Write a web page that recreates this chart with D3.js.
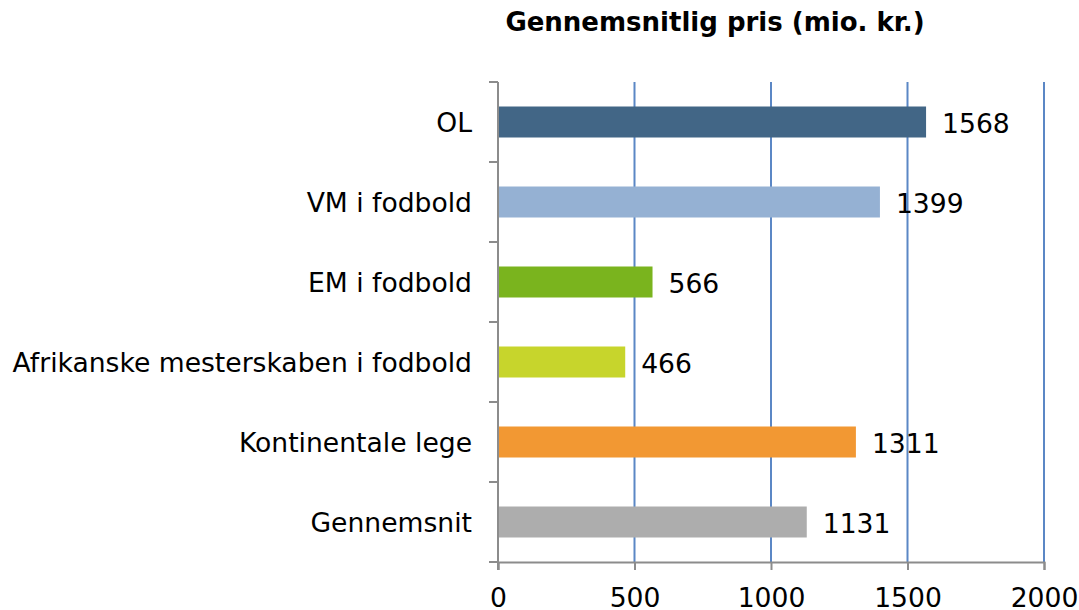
<!DOCTYPE html>
<html><head><meta charset="utf-8">
<script src="https://cdn.jsdelivr.net/npm/d3@7"></script>
<style>body{margin:0;background:#fff}svg{display:block}</style>
</head><body><svg id="c" width="1079" height="610"></svg>
<script>
const categories = ["OL","VM i fodbold","EM i fodbold","Afrikanske mesterskaben i fodbold","Kontinentale lege","Gennemsnit"];
const values = [1568,1399,566,466,1311,1131];
const colors = ["#426686","#95B1D3","#7AB41E","#C7D52C","#F29833","#ADADAD"];
const xTicks = [0,500,1000,1500,2000];
const title = "Gennemsnitlig pris (mio. kr.)";

const svg = d3.select("#c");
const font = "Verdana, 'DejaVu Sans', sans-serif";
const fs = 26.6;
const L = 498, R = 1044, T = 82, B = 562;
const x = d3.scaleLinear().domain([0,2000]).range([L,R]);
const y = d3.scaleBand().domain(categories).range([T,B]).paddingInner(0.6125).paddingOuter(0.30625);

// gridlines
svg.append("g").selectAll("line").data(xTicks.filter(d=>d>0)).join("line")
  .attr("x1",d=>x(d)).attr("x2",d=>x(d)).attr("y1",T).attr("y2",B)
  .attr("stroke","#5B87C5").attr("stroke-width",2);

// bars
svg.append("g").selectAll("rect").data(values).join("rect")
  .attr("x",x(0)+1).attr("y",(d,i)=>y(categories[i]))
  .attr("width",d=>x(d)-x(0)-1).attr("height",y.bandwidth())
  .attr("fill",(d,i)=>colors[i]);

// x axis
const xa = svg.append("g").attr("transform",`translate(0,${B})`)
  .call(d3.axisBottom(x).tickValues(xTicks).tickSize(8).tickPadding(18).tickFormat(d3.format("d")));
xa.select(".domain").attr("stroke","#8C8C8C").attr("stroke-width",2);
xa.selectAll(".tick line").attr("stroke","#8C8C8C").attr("stroke-width",2);
xa.selectAll("text").attr("font-family",font).attr("font-size",fs).attr("fill","#000");

// y axis
const yTicks = d3.range(categories.length+1).map(i=>T+i*(B-T)/categories.length);
svg.append("line").attr("x1",L).attr("x2",L).attr("y1",T).attr("y2",B+8)
  .attr("stroke","#8C8C8C").attr("stroke-width",2);
svg.append("g").selectAll("line").data(yTicks).join("line")
  .attr("x1",L-9).attr("x2",L).attr("y1",d=>d).attr("y2",d=>d)
  .attr("stroke","#8C8C8C").attr("stroke-width",2);
svg.append("g").selectAll("text").data(categories).join("text")
  .attr("x",L-26).attr("y",d=>y(d)+y.bandwidth()/2).attr("dy","0.36em")
  .attr("text-anchor","end").attr("font-family",font).attr("font-size",fs)
  .text(d=>d);

// value labels
svg.append("g").selectAll("text").data(values).join("text")
  .attr("x",d=>x(d)+16).attr("y",(d,i)=>y(categories[i])+y.bandwidth()/2).attr("dy","0.40em")
  .attr("font-family",font).attr("font-size",fs).text(d=>d);

// title
svg.append("text").attr("x",715).attr("y",31).attr("text-anchor","middle")
  .attr("font-family",font).attr("font-size",26).attr("font-weight","bold").text(title);
</script></body></html>
